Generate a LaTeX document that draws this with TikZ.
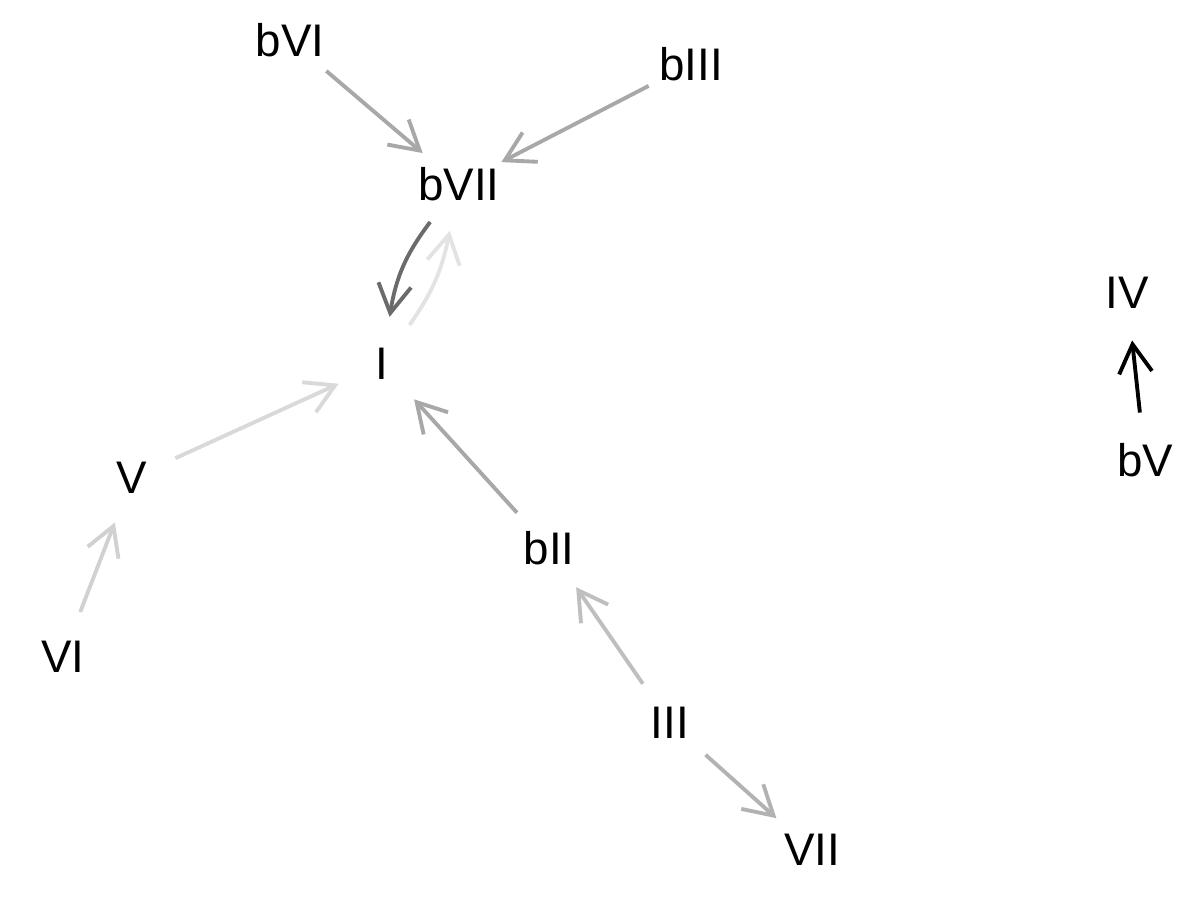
\documentclass[tikz,border=0pt]{standalone}
\usepackage{fontspec}
\setmainfont{Liberation Sans}
\usetikzlibrary{arrows.meta}
\definecolor{edgeA}{gray}{0.66}
\definecolor{edgeB}{gray}{0.42}
\definecolor{edgeC}{gray}{0.89}
\definecolor{edgeD}{gray}{0.85}
\definecolor{edgeE}{gray}{0.82}
\definecolor{edgeF}{gray}{0.66}
\definecolor{edgeG}{gray}{0.75}
\definecolor{edgeH}{gray}{0.70}
\begin{document}
\begin{tikzpicture}[
  chord/.style={circle, inner sep=0pt, minimum size=0.94cm,
    font=\fontsize{13}{15}\selectfont, text=black},
  link/.style={line width=1.1pt, -{Straight Barb[angle=60:0.33cm]}},
]
\useasboundingbox (0,0) rectangle (12,9);

% chord nodes
\node[chord] (bVI)  at (2.90, 8.60) {bVI};
\node[chord] (bIII) at (6.91, 8.36) {bIII};
\node[chord] (bVII) at (4.59, 7.16) {bVII};
\node[chord] (I)    at (3.82, 5.36) {I};
\node[chord] (V)    at (1.32, 4.22) {V};
\node[chord] (VI)   at (0.63, 2.435) {VI};
\node[chord] (bII)  at (5.49, 3.52) {bII};
\node[chord] (III)  at (6.70, 1.77) {III};
\node[chord] (VII)  at (8.12, 0.50) {VII};
\node[chord] (IV)   at (11.27, 6.07) {IV};
\node[chord] (bV)   at (11.45, 4.40) {bV};

% transitions
\draw[link, draw=edgeA] (bVI) -- (bVII);
\draw[link, draw=edgeA] (bIII) -- (bVII);
\draw[link, draw=edgeB] (bVII) to[bend right=14] (I);
\draw[link, draw=edgeC] (I) to[bend right=12] (bVII);
\draw[link, draw=edgeD] (V) -- (I);
\draw[link, draw=edgeE] (VI) -- (V);
\draw[link, draw=edgeF] (bII) -- (I);
\draw[link, draw=edgeG] (III) -- (bII);
\draw[link, draw=edgeH] (III) -- (VII);
\draw[link, draw=black] (bV) -- (IV);
\end{tikzpicture}
\end{document}
